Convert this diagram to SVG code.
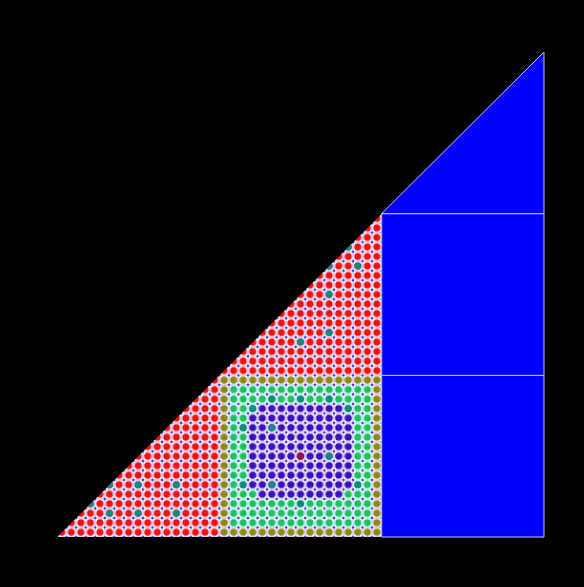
<svg xmlns="http://www.w3.org/2000/svg" width="584" height="587" viewBox="0 0 584 587">
<defs>
<style>
.bl{fill:#0000ff;stroke:#c8c8ff;stroke-width:1;vector-effect:non-scaling-stroke}
.cell{fill:#ffffff;stroke:#d8c4ee;stroke-width:0.16}
.cd{fill:#3a2fc0}
.teal{fill:#138a86}
</style>
<pattern id="pRed" patternUnits="userSpaceOnUse" x="0" y="0" width="1" height="1">
<rect class="cell" x="0" y="0" width="1" height="1"/>
<circle cx="0.5" cy="0.5" r="0.37" fill="#f21212"/>
<circle class="cd" cx="0" cy="0" r="0.12"/><circle class="cd" cx="1" cy="0" r="0.12"/><circle class="cd" cx="0" cy="1" r="0.12"/><circle class="cd" cx="1" cy="1" r="0.12"/>
</pattern>
<pattern id="pOlive" patternUnits="userSpaceOnUse" x="0" y="0" width="1" height="1">
<rect class="cell" x="0" y="0" width="1" height="1"/>
<circle cx="0.5" cy="0.5" r="0.38" fill="#8c8a14"/>
<circle class="cd" cx="0" cy="0" r="0.12"/><circle class="cd" cx="1" cy="0" r="0.12"/><circle class="cd" cx="0" cy="1" r="0.12"/><circle class="cd" cx="1" cy="1" r="0.12"/>
</pattern>
<pattern id="pGreen" patternUnits="userSpaceOnUse" x="0" y="0" width="1" height="1">
<rect x="0" y="0" width="1" height="1" fill="#eafffb" stroke="#c4e8f0" stroke-width="0.16"/>
<circle cx="0.5" cy="0.5" r="0.37" fill="#20c062"/>
<circle class="cd" cx="0" cy="0" r="0.12"/><circle class="cd" cx="1" cy="0" r="0.12"/><circle class="cd" cx="0" cy="1" r="0.12"/><circle class="cd" cx="1" cy="1" r="0.12"/>
</pattern>
<pattern id="pPurple" patternUnits="userSpaceOnUse" x="0" y="0" width="1" height="1">
<rect class="cell" x="0" y="0" width="1" height="1"/>
<circle cx="0.5" cy="0.5" r="0.38" fill="#3c10c0"/>
<circle class="cd" cx="0" cy="0" r="0.12"/><circle class="cd" cx="1" cy="0" r="0.12"/><circle class="cd" cx="0" cy="1" r="0.12"/><circle class="cd" cx="1" cy="1" r="0.12"/>
</pattern>
<clipPath id="triClip" clipPathUnits="userSpaceOnUse">
<polygon points="0,0 34,0 34,34"/>
</clipPath>
</defs>
<rect x="0" y="0" width="584" height="587" fill="#000000"/>
<g transform="translate(57,537) scale(9.549,-9.51)">
<g id="grid-region" clip-path="url(#triClip)">
<polygon points="0,0 34,0 34,34" fill="url(#pRed)"/>
<g id="red-teal">
<circle class="teal" cx="3.5" cy="3.5" r="0.37"/>
<circle class="teal" cx="5.5" cy="2.5" r="0.37"/>
<circle class="teal" cx="5.5" cy="5.5" r="0.37"/>
<circle class="teal" cx="8.5" cy="2.5" r="0.37"/>
<circle class="teal" cx="8.5" cy="5.5" r="0.37"/>
<circle class="teal" cx="12.5" cy="2.5" r="0.37"/>
<circle class="teal" cx="12.5" cy="5.5" r="0.37"/>
<circle class="teal" cx="25.5" cy="20.5" r="0.37"/>
<circle class="teal" cx="28.5" cy="21.5" r="0.37"/>
<circle class="teal" cx="28.5" cy="25.5" r="0.37"/>
<circle class="teal" cx="28.5" cy="28.5" r="0.37"/>
<circle class="teal" cx="30.5" cy="30.5" r="0.37"/>
<circle class="teal" cx="31.5" cy="28.5" r="0.37"/>
</g>
<g id="square-region">
<rect x="17" y="0" width="17" height="17" fill="url(#pOlive)"/>
<rect x="18" y="1" width="15" height="15" fill="url(#pGreen)"/>
<polygon points="21,4 30,4 30,5 31,5 31,13 30,13 30,14 21,14 21,13 20,13 20,5 21,5" fill="url(#pPurple)"/>
<circle class="teal" cx="22.5" cy="14.5" r="0.37"/>
<circle class="teal" cx="25.5" cy="14.5" r="0.37"/>
<circle class="teal" cx="28.5" cy="14.5" r="0.37"/>
<circle class="teal" cx="20.5" cy="13.5" r="0.37"/>
<circle class="teal" cx="30.5" cy="13.5" r="0.37"/>
<circle class="teal" cx="19.5" cy="11.5" r="0.37"/>
<circle class="teal" cx="22.5" cy="11.5" r="0.37"/>
<circle class="teal" cx="28.5" cy="8.5" r="0.37"/>
<circle class="teal" cx="22.5" cy="5.5" r="0.37"/>
<circle class="teal" cx="19.5" cy="5.5" r="0.37"/>
<circle class="teal" cx="25.5" cy="3.5" r="0.37"/>
<circle class="teal" cx="31.5" cy="5.5" r="0.37"/>
<circle cx="25.5" cy="8.5" r="0.38" fill="#9a1050"/>
</g>
</g>
<g id="blue-bottom"><rect class="bl" x="34" y="0" width="17" height="17"/></g>
<g id="blue-middle"><rect class="bl" x="34" y="17" width="17" height="17"/></g>
<g id="blue-top"><polygon class="bl" points="34,34 51,51 51,34"/></g>
</g>
</svg>
